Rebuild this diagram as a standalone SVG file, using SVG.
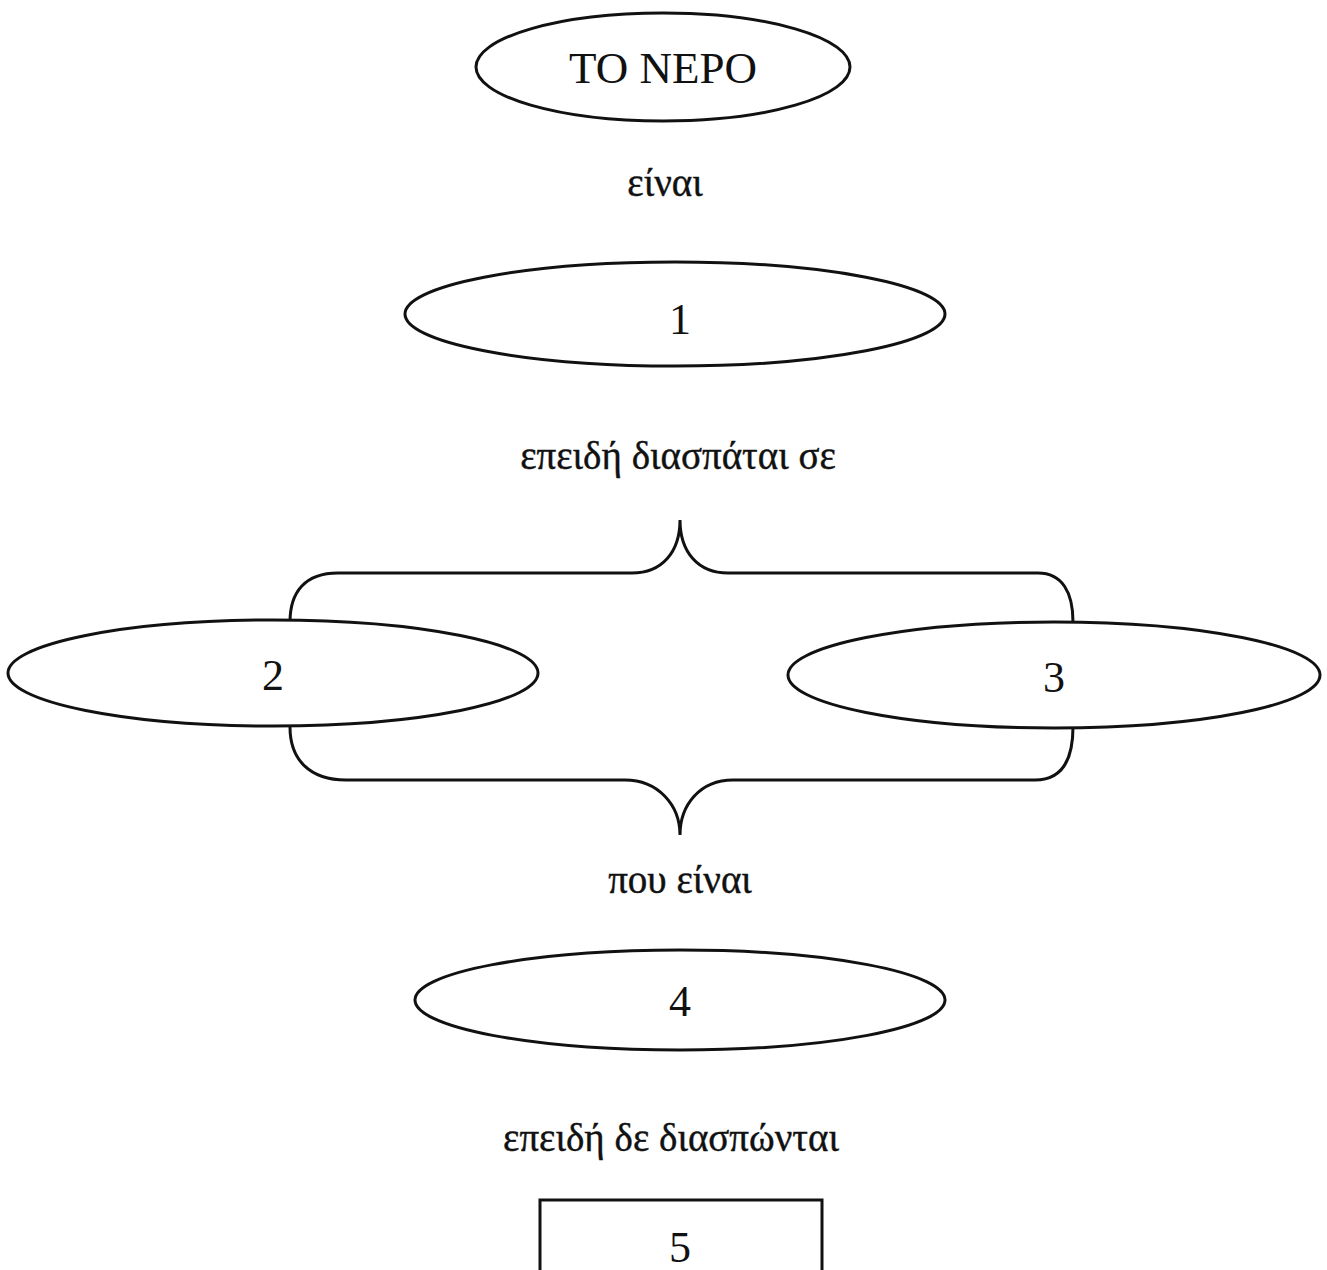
<svg xmlns="http://www.w3.org/2000/svg" width="1327" height="1270" viewBox="0 0 1327 1270">
<style>
.shape{fill:#fff;stroke:#111;stroke-width:3}
.brace{fill:none;stroke:#111;stroke-width:3}
.lbl{font-family:"Liberation Serif","Times New Roman",serif;fill:#111;text-anchor:middle}
.big{font-size:45px}
.num{font-size:44px}
.link{font-size:39px;stroke:#111;stroke-width:0.4}
</style>
<rect width="1327" height="1270" fill="#fff"/>
<g id="connectors">
<path class="brace" d="M290,622 C290,592 305,573 338,573 L632,573 C662,573 680,552 680,520 C680,552 698,573 728,573 L1038,573 C1062,573 1073,592 1073,622"/>
<path class="brace" d="M290,727 C290,760 310,780 346,780 L625,780 C658,780 680,805 680,835 C680,805 700,780 733,780 L1035,780 C1062,780 1073,760 1073,727"/>
<text class="lbl link" x="665" y="196">είναι</text>
<text class="lbl link" x="678" y="469">επειδή διασπάται σε</text>
<text class="lbl link" x="680" y="893">που είναι</text>
<text class="lbl link" x="671" y="1151">επειδή δε διασπώνται</text>
</g>
<g id="node-water">
<ellipse class="shape" cx="663" cy="67" rx="187" ry="54"/>
<text class="lbl big" x="663" y="83">TO NEPO</text>
</g>
<g id="node-1">
<ellipse class="shape" cx="675" cy="314" rx="270" ry="52"/>
<text class="lbl num" x="680" y="334">1</text>
</g>
<g id="node-2">
<ellipse class="shape" cx="273" cy="673" rx="265" ry="53"/>
<text class="lbl num" x="273" y="690">2</text>
</g>
<g id="node-3">
<ellipse class="shape" cx="1054" cy="675" rx="266" ry="53"/>
<text class="lbl num" x="1054" y="692">3</text>
</g>
<g id="node-4">
<ellipse class="shape" cx="680" cy="1000" rx="265" ry="50"/>
<text class="lbl num" x="680" y="1016">4</text>
</g>
<g id="node-5">
<rect class="shape" x="540" y="1200" width="282" height="90"/>
<text class="lbl num" x="680" y="1262">5</text>
</g>
</svg>
